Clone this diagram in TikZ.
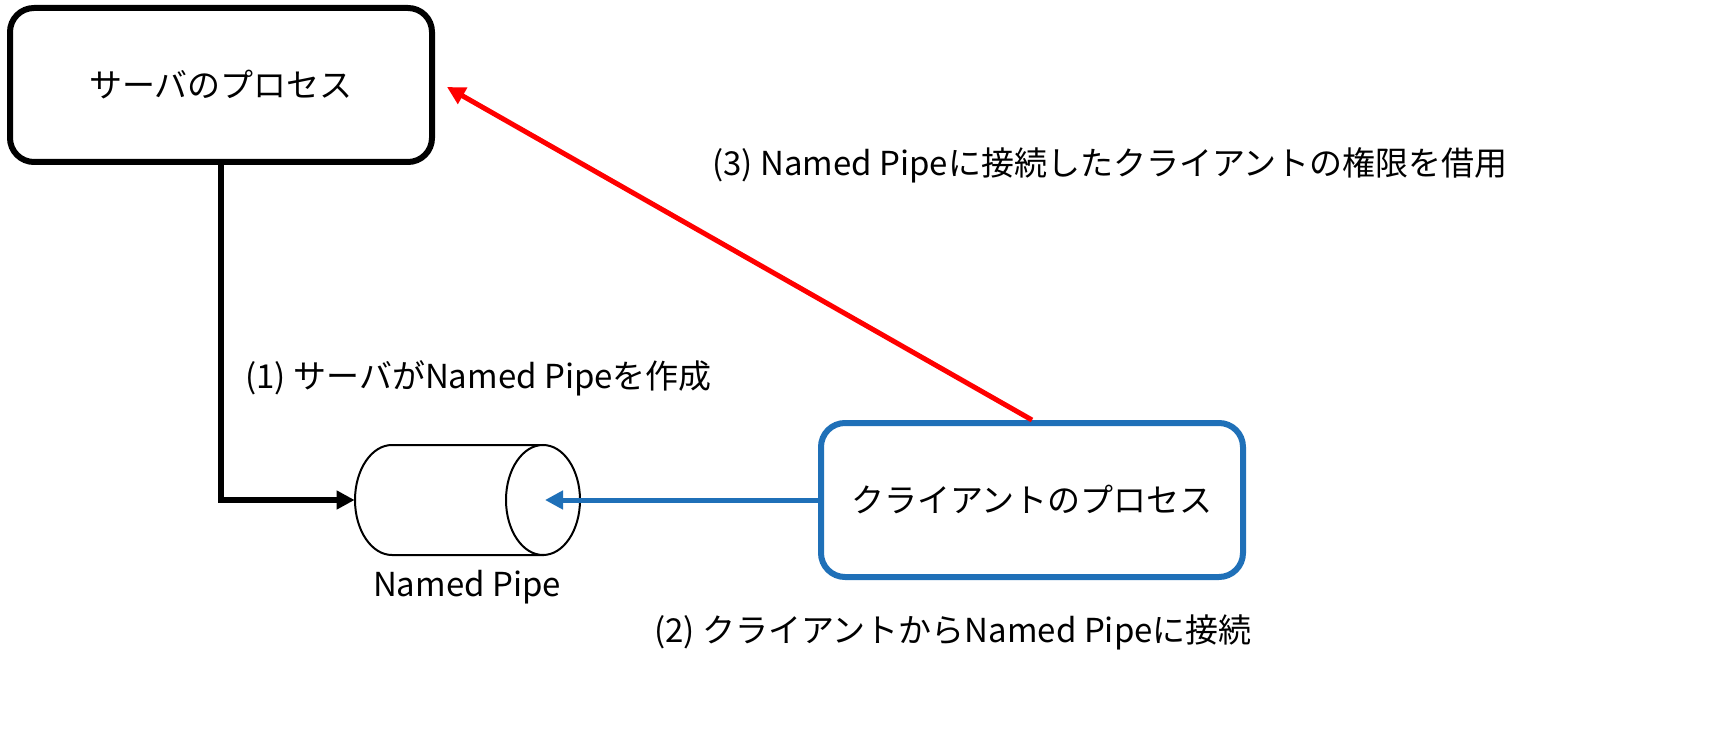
\documentclass[tikz,border=0pt]{standalone}
\usepackage{fontspec}
\setmainfont{Liberation Sans}
\newfontfamily\jp{Noto Sans CJK JP}
\usetikzlibrary{arrows.meta}
\definecolor{clientblue}{HTML}{1F70B8}
\definecolor{arrowred}{HTML}{FF0000}
\tikzset{
  procbox/.style = {draw, line width = 3pt, rounded corners = 12pt, minimum width = 211pt, minimum height = 77pt, font = \jp\fontsize{16.5}{19}\selectfont},
  lbl/.style = {font = \jp\fontsize{16.5}{19}\selectfont, inner sep = 0pt},
  tip/.style = {-{Triangle[length = 9pt, width = 9pt]}}
}

\begin{document}
\begin{tikzpicture}[x = 0.5pt, y = -0.5pt]
        \useasboundingbox (0, 0) rectangle (1710, 738);
        % Nodes
        \node [procbox] (server) at (221, 85) {サーバのプロセス};
        \node [procbox, draw = clientblue] (client) at (1032, 500) {クライアントのプロセス};
        \node [minimum width = 112pt, minimum height = 55pt, inner sep = 0pt] (pipe) at (467, 500) {};
        \node [lbl] (pipename) at (467, 587) {Named Pipe};
        \coordinate (pipein) at (545, 500);
        \coordinate (bend) at (221, 500);

        % Pipe
        \draw [line width = 1pt, fill = white] (392, 445) -- (543, 445) -- (543, 555) -- (392, 555)
              arc [start angle = 270, end angle = 90, x radius = 18.5pt, y radius = 27.5pt];
        \draw [line width = 1pt, fill = white] (543, 500) ellipse [x radius = 18.5pt, y radius = 27.5pt];

        % Lines
        \draw [tip, line width = 3pt, line cap = rect] (server.south) -- (bend) -- (pipe.west);
        \draw [tip, line width = 2.5pt, draw = clientblue, fill = clientblue] (client.west) -- (pipein);
        \draw [tip, line width = 2.5pt, draw = arrowred, fill = arrowred] (client.north) -- (447, 87);

        % Labels
        \node [lbl, anchor = west] (step1) at (245, 378) {(1) サーバがNamed Pipeを作成};
        \node [lbl] (step2) at (953, 632) {(2) クライアントからNamed Pipeに接続};
        \node [lbl] (step3) at (1110, 165) {(3) Named Pipeに接続したクライアントの権限を借用};
\end{tikzpicture}
\end{document}
